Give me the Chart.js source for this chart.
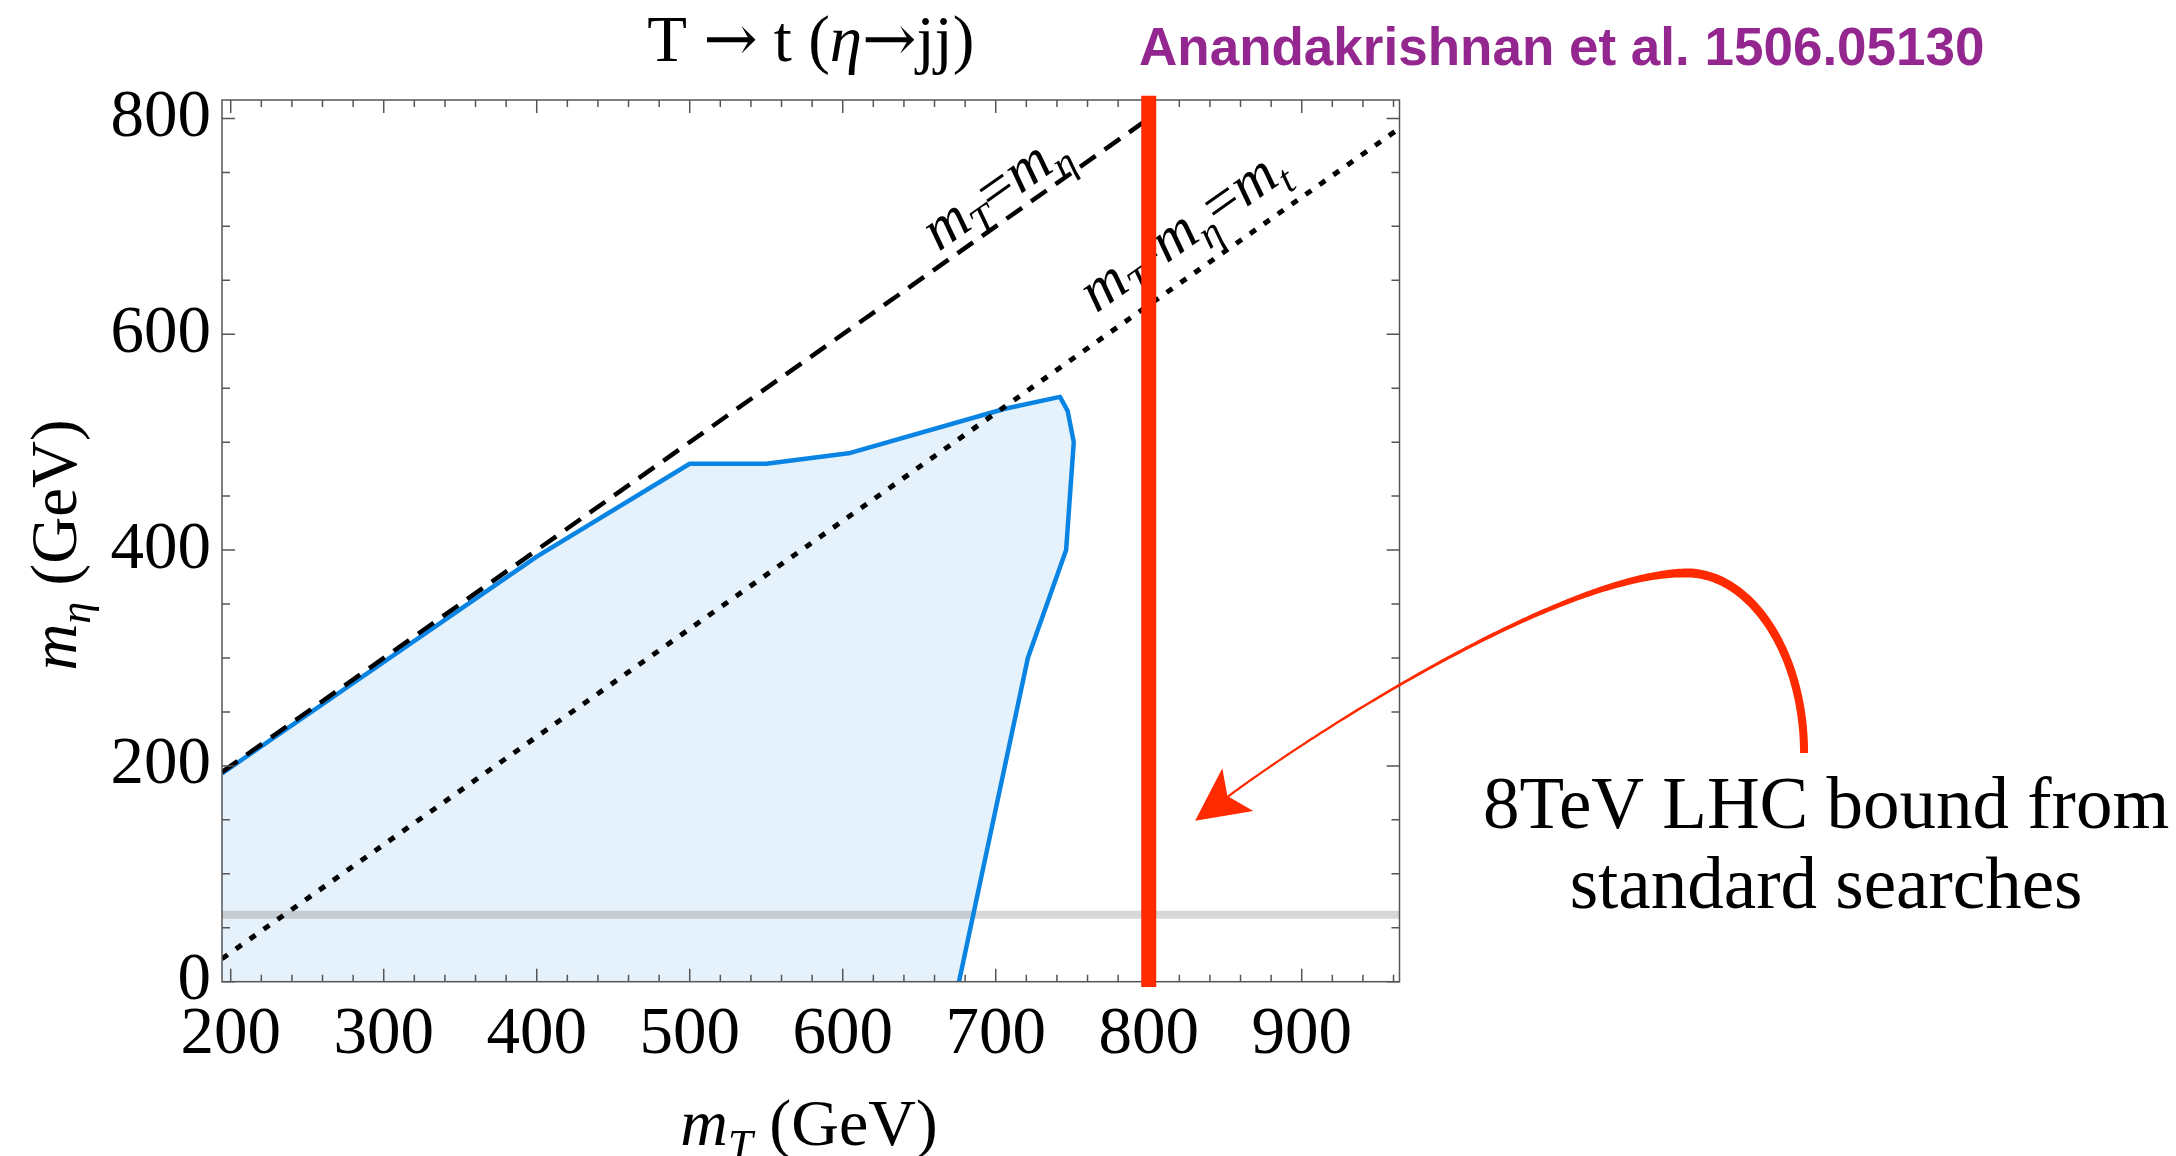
<!DOCTYPE html>
<html>
<head>
<meta charset="utf-8">
<title>T → t (η→jj) exclusion</title>
<script src="https://cdn.jsdelivr.net/npm/chart.js@4.4.1/dist/chart.umd.min.js"></script>
<style>
  html, body { margin: 0; padding: 0; background: #ffffff; }
  #wrap { width: 2176px; height: 1156px; position: relative; }
</style>
</head>
<body>
<div id="wrap"><canvas id="c"></canvas></div>
<script>
// ---- data (GeV) ----
// upper/right edge of the excluded region in the (m_T, m_eta) plane
const boundMT   = [194.3, 400, 500, 550, 605, 706, 742, 747, 751, 746, 721, 676];
const boundMEta = [193,   394, 480, 480, 490, 531, 542, 529, 500, 400, 300, 0];
// corner that closes the region along the axes
const regionCornerMT = [194.3];
const regionCornerMEta = [0];
// kinematic boundaries
const diagMT = [194.3, 800];   const diagMEta = [194.3, 800];   // m_T = m_eta
const topMT  = [194.3, 963.9]; const topMEta  = [21.3, 790.9];  // m_T - m_eta = m_t
// light-resonance band
const bandMT = [194.3, 963.9]; const bandMEta = [62, 62];
// 8 TeV LHC bound from standard searches
const lhcMT = [800, 800];      const lhcMEta = [-5, 821];
// axes
const xRange = [194.3, 963.9];
const yRange = [0, 817.1];
const xTickValues = [200, 300, 400, 500, 600, 700, 800, 900];
const yTickValues = [0, 200, 400, 600, 800];

const toPts = (xs, ys) => xs.map((v, i) => ({ x: v, y: ys[i] }));

const SERIF = "'Liberation Serif', 'Times New Roman', serif";
const SANS = "'Liberation Sans', Arial, sans-serif";
const RED = '#ff2a00';

// draws a run of text pieces (italic / subscript) starting at x (or centred on it)
function drawRuns(ctx, runs, size, x, y, align) {
  const parts = runs.map(r => {
    const s = r.sub ? size * 0.68 : size;
    const font = (r.italic ? 'italic ' : '') + (r.bold ? 'bold ' : '') + s + 'px ' + (r.family || SERIF);
    ctx.font = font;
    return { r, font, w: ctx.measureText(r.t).width, dy: r.sub ? size * 0.22 : 0 };
  });
  const total = parts.reduce((a, p) => a + p.w, 0);
  let cx = align === 'center' ? x - total / 2 : (align === 'right' ? x - total : x);
  ctx.textAlign = 'left';
  ctx.textBaseline = 'alphabetic';
  parts.forEach(p => { ctx.font = p.font; ctx.fillText(p.r.t, cx, y + p.dy); cx += p.w; });
}

function drawFrame(chart) {
  const { ctx, chartArea: a, scales: { x, y } } = chart;
  ctx.save();
  ctx.strokeStyle = '#555555';
  ctx.lineWidth = 1.5;
  ctx.beginPath();
  for (let v = 200; v <= 960; v += 20) {
    const px = x.getPixelForValue(v);
    const L = v % 100 === 0 ? 13 : 7;
    ctx.moveTo(px, a.bottom); ctx.lineTo(px, a.bottom - L);
    ctx.moveTo(px, a.top);    ctx.lineTo(px, a.top + L);
  }
  for (let v = 0; v <= 800; v += 50) {
    const py = y.getPixelForValue(v);
    const L = v % 200 === 0 ? 13 : 8;
    ctx.moveTo(a.left, py);  ctx.lineTo(a.left + L, py);
    ctx.moveTo(a.right, py); ctx.lineTo(a.right - L, py);
  }
  ctx.stroke();
  ctx.strokeRect(a.left, a.top, a.right - a.left, a.bottom - a.top);
  ctx.restore();
}

function drawLineLabels(chart) {
  const { ctx, scales: { x, y } } = chart;
  const ang = Math.atan2(y.getPixelForValue(diagMEta[1]) - y.getPixelForValue(diagMEta[0]),
                         x.getPixelForValue(diagMT[1]) - x.getPixelForValue(diagMT[0]));
  const labels = [
    { at: [706.4, 719.9], runs: [{ t: 'm', italic: true }, { t: 'T', italic: true, sub: true }, { t: '=' },
                                 { t: 'm', italic: true }, { t: 'η', italic: true, sub: true }] },
    { at: [829.2, 682.9], runs: [{ t: 'm', italic: true }, { t: 'T', italic: true, sub: true }, { t: '-' },
                                 { t: 'm', italic: true }, { t: 'η', italic: true, sub: true }, { t: '=' },
                                 { t: 'm', italic: true }, { t: 't', italic: true, sub: true }] }
  ];
  ctx.save();
  ctx.fillStyle = '#000000';
  labels.forEach(l => {
    ctx.save();
    ctx.translate(x.getPixelForValue(l.at[0]), y.getPixelForValue(l.at[1]));
    ctx.rotate(ang);
    drawRuns(ctx, l.runs, 60, 0, 0, 'center');
    ctx.restore();
  });
  ctx.restore();
}

function bez(p0, p1, p2, p3, t) {
  const u = 1 - t;
  return [u*u*u*p0[0] + 3*u*u*t*p1[0] + 3*u*t*t*p2[0] + t*t*t*p3[0],
          u*u*u*p0[1] + 3*u*u*t*p1[1] + 3*u*t*t*p2[1] + t*t*t*p3[1]];
}

function drawArrow(chart) {
  const { ctx, scales: { x, y } } = chart;
  const P = d => [x.getPixelForValue(d[0]), y.getPixelForValue(d[1])];
  // curved shaft: two cubic pieces, in (m_T, m_eta) units
  const segA = [[1228.3, 212.0], [1228.3, 303.8], [1193.7, 378.8], [1151.6, 378.8]].map(P);
  const segB = [[1151.6, 378.8], [1068.8, 378.8], [898.9, 224.0], [840.1, 159.1]].map(P);
  const pts = [], widths = [];
  const N = 80;
  for (let i = 0; i <= N; i++) { const t = i / N; pts.push(bez(...segA, t)); widths.push(8 + 1 * t); }
  for (let i = 1; i <= 2 * N; i++) { const t = i / (2 * N); pts.push(bez(...segB, t)); widths.push(2.2 + 6.8 * Math.pow(1 - t, 3)); }
  const left = [], right = [];
  for (let i = 0; i < pts.length; i++) {
    const a = pts[Math.max(0, i - 1)], b = pts[Math.min(pts.length - 1, i + 1)];
    let tx = b[0] - a[0], ty = b[1] - a[1];
    const len = Math.hypot(tx, ty) || 1; tx /= len; ty /= len;
    const nx = -ty, ny = tx, h = widths[i] / 2;
    left.push([pts[i][0] + nx * h, pts[i][1] + ny * h]);
    right.push([pts[i][0] - nx * h, pts[i][1] - ny * h]);
  }
  ctx.save();
  ctx.fillStyle = RED;
  ctx.beginPath();
  left.forEach((p, i) => i ? ctx.lineTo(p[0], p[1]) : ctx.moveTo(p[0], p[1]));
  for (let i = right.length - 1; i >= 0; i--) ctx.lineTo(right[i][0], right[i][1]);
  ctx.closePath();
  ctx.fill();
  // notched head
  const head = [[830.3, 149.2], [848.1, 197.8], [851.4, 172.1], [868.4, 158.2]].map(P);
  ctx.beginPath();
  head.forEach((p, i) => i ? ctx.lineTo(p[0], p[1]) : ctx.moveTo(p[0], p[1]));
  ctx.closePath();
  ctx.fill();
  ctx.restore();
}

const overlay = {
  id: 'overlay',
  afterDatasetDraw(chart, args) {
    if (chart.data.datasets[args.index].label === 'diag') {
      drawFrame(chart);
      drawLineLabels(chart);
    }
  },
  afterDraw(chart) {
    const { ctx, chartArea: a, scales: { x, y } } = chart;
    ctx.save();
    ctx.fillStyle = '#000000';
    // title
    drawRuns(ctx, [{ t: 'T ' }, { t: '→', family: "'DejaVu Serif', serif" }, { t: ' t (' }, { t: 'η', italic: true },
                   { t: '→', family: "'DejaVu Serif', serif" }, { t: 'jj)' }], 65, (a.left + a.right) / 2, 61, 'center');
    // axis titles
    drawRuns(ctx, [{ t: 'm', italic: true }, { t: 'T', italic: true, sub: true }, { t: ' (GeV)' }], 66, 809, 1145, 'center');
    ctx.save();
    ctx.translate(76, 545);
    ctx.rotate(-Math.PI / 2);
    drawRuns(ctx, [{ t: 'm', italic: true }, { t: 'η', italic: true, sub: true }, { t: ' (GeV)' }], 65, 0, 0, 'center');
    ctx.restore();
    // reference
    ctx.fillStyle = '#93278f';
    ctx.font = 'bold 53px ' + SANS;
    ctx.textAlign = 'left';
    ctx.textBaseline = 'alphabetic';
    ctx.fillText('Anandakrishnan et al. 1506.05130', 1139, 65);
    // note on the bound
    ctx.fillStyle = '#000000';
    ctx.font = '73px ' + SERIF;
    ctx.textAlign = 'center';
    ctx.fillText('8TeV LHC bound from', x.getPixelForValue(1242.7), y.getPixelForValue(142.2));
    ctx.fillText('standard searches', x.getPixelForValue(1242.7), y.getPixelForValue(68.0));
    ctx.restore();
    drawArrow(chart);
  }
};

const ctx = document.getElementById('c').getContext('2d');
new Chart(ctx, {
  type: 'line',
  data: {
    datasets: [
      { label: 'lhc', data: toPts(lhcMT, lhcMEta), borderColor: RED, borderWidth: 15,
        borderCapStyle: 'butt', pointRadius: 0, fill: false, clip: false, order: 0 },
      { label: 'diag', data: toPts(diagMT, diagMEta), borderColor: '#000000', borderWidth: 4.5,
        borderDash: [19, 11], borderCapStyle: 'butt', pointRadius: 0, fill: false, order: 1 },
      { label: 'top', data: toPts(topMT, topMEta), borderColor: '#000000', borderWidth: 5,
        borderDash: [7, 10], borderCapStyle: 'butt', pointRadius: 0, fill: false, order: 2 },
      { label: 'boundary', data: toPts(boundMT, boundMEta), borderColor: '#0a84e3', borderWidth: 4.5,
        borderJoinStyle: 'round', pointRadius: 0, fill: false, order: 3 },
      { label: 'band', data: toPts(bandMT, bandMEta), borderColor: 'rgba(140,140,140,0.35)', borderWidth: 8,
        borderCapStyle: 'butt', pointRadius: 0, fill: false, order: 4 },
      { label: 'region',
        data: toPts(boundMT.concat(regionCornerMT), boundMEta.concat(regionCornerMEta)),
        borderColor: 'rgba(0,0,0,0)', borderWidth: 0, backgroundColor: '#e5f1fb',
        pointRadius: 0, fill: 'shape', order: 5 }
    ]
  },
  options: {
    responsive: true,
    maintainAspectRatio: false,
    animation: false,
    devicePixelRatio: 1,
    layout: { padding: { left: 0, top: 100, right: 776.5, bottom: 0 } },
    plugins: { legend: { display: false }, tooltip: { enabled: false }, title: { display: false } },
    elements: { line: { tension: 0 } },
    scales: {
      x: {
        type: 'linear', min: xRange[0], max: xRange[1],
        grid: { display: false, drawTicks: false }, border: { display: false },
        ticks: { font: { family: 'Liberation Serif', size: 67 }, color: '#000000', padding: 14,
                 maxRotation: 0, autoSkip: false },
        afterBuildTicks: s => { s.ticks = xTickValues.map(v => ({ value: v })); },
        afterFit: s => { s.height = 174.3; }
      },
      y: {
        type: 'linear', min: yRange[0], max: yRange[1],
        grid: { display: false, drawTicks: false }, border: { display: false },
        ticks: { font: { family: 'Liberation Serif', size: 67 }, color: '#000000', padding: 11,
                 autoSkip: false },
        afterBuildTicks: s => { s.ticks = yTickValues.map(v => ({ value: v })); },
        afterFit: s => { s.width = 222; }
      }
    }
  },
  plugins: [overlay]
});
</script>
</body>
</html>
